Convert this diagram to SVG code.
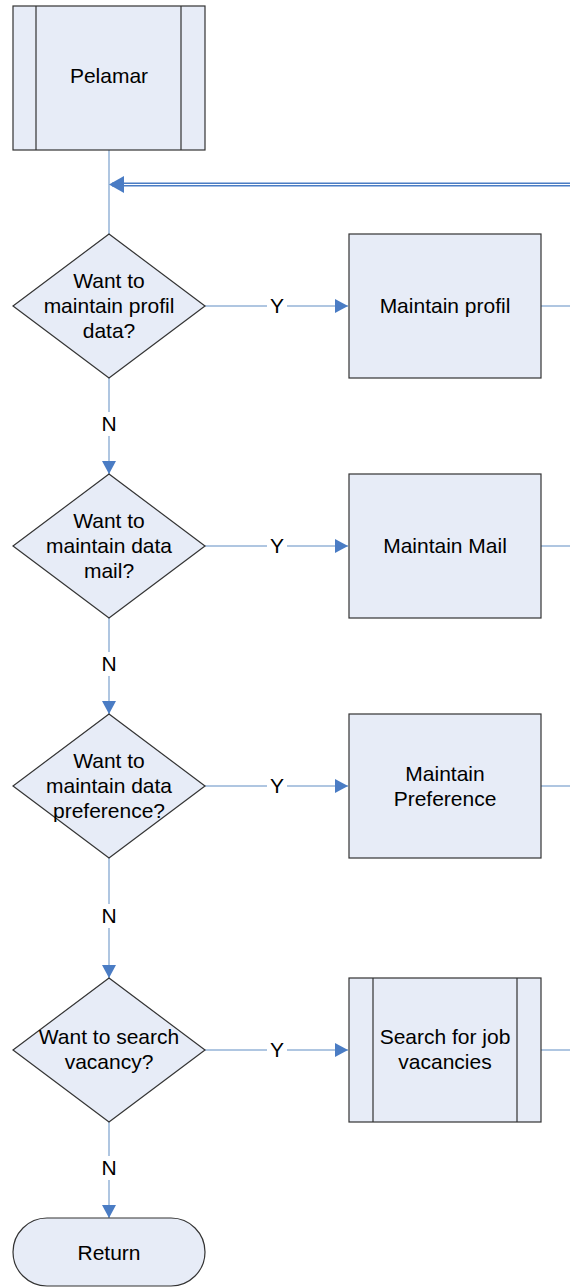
<svg xmlns="http://www.w3.org/2000/svg" width="570" height="1288" viewBox="0 0 570 1288">
<style>
.n{fill:#E7ECF7;stroke:#333;stroke-width:1.2}
.t{font-family:"Liberation Sans",Arial,sans-serif;font-size:21px;fill:#000;text-anchor:middle}
.c{stroke:#95B3D7;stroke-width:1.5;fill:none}
.lb{fill:#fff}
</style>
<defs>
<marker id="a" viewBox="0 0 13 14" refX="13" refY="7" markerWidth="13" markerHeight="14" markerUnits="userSpaceOnUse" orient="auto">
<path d="M0,0 L13,7 L0,14 Z" fill="#4A7CC4"/>
</marker>
</defs>
<rect width="570" height="1288" fill="#fff"/>
<g id="connectors">
<path class="c" d="M109,150 V234"/>
<path d="M570,184.5 H112" stroke="#4A7CC4" stroke-width="4" fill="none"/>
<path d="M570,184.5 H120" stroke="#fff" stroke-width="1.2" fill="none"/>
<polygon points="109,184.5 124,176 124,193" fill="#4A7CC4"/>
<path class="c" d="M205,306 H348" marker-end="url(#a)"/>
<path class="c" d="M541,306 H570"/>
<path class="c" d="M109,378 V474" marker-end="url(#a)"/>
<path class="c" d="M205,546 H348" marker-end="url(#a)"/>
<path class="c" d="M541,546 H570"/>
<path class="c" d="M109,618 V714" marker-end="url(#a)"/>
<path class="c" d="M205,786 H348" marker-end="url(#a)"/>
<path class="c" d="M541,786 H570"/>
<path class="c" d="M109,858 V978" marker-end="url(#a)"/>
<path class="c" d="M205,1050 H348" marker-end="url(#a)"/>
<path class="c" d="M541,1050 H570"/>
<path class="c" d="M109,1122 V1218" marker-end="url(#a)"/>
<rect class="lb" x="267" y="295" width="20" height="22"/>
<text class="t" x="277" y="313">Y</text>
<rect class="lb" x="267" y="535" width="20" height="22"/>
<text class="t" x="277" y="553">Y</text>
<rect class="lb" x="267" y="775" width="20" height="22"/>
<text class="t" x="277" y="793">Y</text>
<rect class="lb" x="267" y="1039" width="20" height="22"/>
<text class="t" x="277" y="1057">Y</text>
<rect class="lb" x="99" y="412" width="20" height="24"/>
<text class="t" x="109" y="431">N</text>
<rect class="lb" x="99" y="652" width="20" height="24"/>
<text class="t" x="109" y="671">N</text>
<rect class="lb" x="99" y="904" width="20" height="24"/>
<text class="t" x="109" y="923">N</text>
<rect class="lb" x="99" y="1156" width="20" height="24"/>
<text class="t" x="109" y="1175">N</text>
</g>
<g id="pelamar">
<rect class="n" x="13" y="6" width="192" height="144"/>
<path d="M36,6 V150 M181,6 V150" stroke="#333" stroke-width="1.2"/>
<text class="t" x="109" y="83">Pelamar</text>
</g>
<g id="d1">
<polygon class="n" points="109,234 205,306 109,378 13,306"/>
<text class="t" x="109" y="288">Want to</text>
<text class="t" x="109" y="313">maintain profil</text>
<text class="t" x="109" y="338">data?</text>
</g>
<g id="b1">
<rect class="n" x="349" y="234" width="192" height="144"/>
<text class="t" x="445" y="313">Maintain profil</text>
</g>
<g id="d2">
<polygon class="n" points="109,474 205,546 109,618 13,546"/>
<text class="t" x="109" y="528">Want to</text>
<text class="t" x="109" y="553">maintain data</text>
<text class="t" x="109" y="578">mail?</text>
</g>
<g id="b2">
<rect class="n" x="349" y="474" width="192" height="144"/>
<text class="t" x="445" y="553">Maintain Mail</text>
</g>
<g id="d3">
<polygon class="n" points="109,714 205,786 109,858 13,786"/>
<text class="t" x="109" y="768">Want to</text>
<text class="t" x="109" y="793">maintain data</text>
<text class="t" x="109" y="818">preference?</text>
</g>
<g id="b3">
<rect class="n" x="349" y="714" width="192" height="144"/>
<text class="t" x="445" y="781">Maintain</text>
<text class="t" x="445" y="806">Preference</text>
</g>
<g id="d4">
<polygon class="n" points="109,978 205,1050 109,1122 13,1050"/>
<text class="t" x="109" y="1044">Want to search</text>
<text class="t" x="109" y="1069">vacancy?</text>
</g>
<g id="b4">
<rect class="n" x="349" y="978" width="192" height="144"/>
<path d="M373,978 V1122 M517,978 V1122" stroke="#333" stroke-width="1.2"/>
<text class="t" x="445" y="1044">Search for job</text>
<text class="t" x="445" y="1069">vacancies</text>
</g>
<g id="ret">
<rect class="n" x="13" y="1218" width="192" height="68" rx="34" ry="34"/>
<text class="t" x="109" y="1260">Return</text>
</g>
</svg>
